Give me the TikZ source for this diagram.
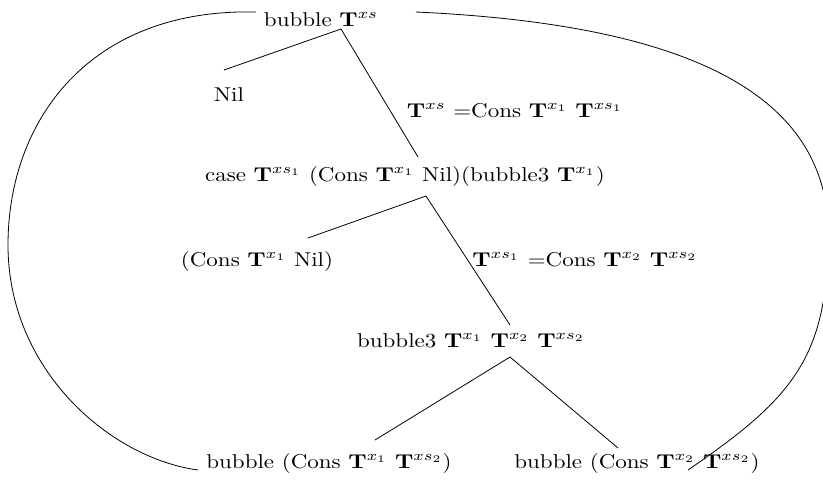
\documentclass[tikz,border=0pt]{standalone}
\usepackage{amsmath}
\usepackage{amssymb}

\begin{document}
\begin{tikzpicture}[x=0.5pt,y=-0.5pt]
    \tikzset{%
      term/.style={anchor=base, inner sep=0pt, xscale=1.15, transform shape},
      branch/.style={draw, line width=0.4pt},
      recur/.style={draw, line width=0.4pt},
    }
    \useasboundingbox (0,0) rectangle (823,484);
    \clip (0,0) rectangle (823,484);

    \node[term] (bub) at (321,26) {bubble $\mathbf{T}^{xs}$};
    \node[term] (nil) at (229,101) {Nil};
    \node[term] (lab1) at (515,117) {$\mathbf{T}^{xs}$ =Cons $\mathbf{T}^{x_1}$ $\mathbf{T}^{xs_1}$};
    \node[term] (case) at (405,181) {case $\mathbf{T}^{xs_1}$ (Cons $\mathbf{T}^{x_1}$ Nil)(bubble3 $\mathbf{T}^{x_1}$)};
    \node[term] (cnil) at (257,266) {(Cons $\mathbf{T}^{x_1}$ Nil)};
    \node[term] (lab2) at (585,266) {$\mathbf{T}^{xs_1}$ =Cons $\mathbf{T}^{x_2}$ $\mathbf{T}^{xs_2}$};
    \node[term] (bub3) at (471,347) {bubble3 $\mathbf{T}^{x_1}$ $\mathbf{T}^{x_2}$ $\mathbf{T}^{xs_2}$};
    \node[term] (bubL) at (329,468) {bubble (Cons $\mathbf{T}^{x_1}$ $\mathbf{T}^{xs_2}$)};
    \node[term] (bubR) at (637,468) {bubble (Cons $\mathbf{T}^{x_2}$ $\mathbf{T}^{xs_2}$)};

    % case split
    \draw[branch] ([shift={(20,3)}]bub.base) -- ([shift={(-5,-31)}]nil.base);
    \draw[branch] ([shift={(20,3)}]bub.base) -- ([shift={(13,-24)}]case.base);
    \draw[branch] ([shift={(21,15)}]case.base) -- ([shift={(51,-28)}]cnil.base);
    \draw[branch] ([shift={(21,15)}]case.base) -- ([shift={(39,-22)}]bub3.base);
    \draw[branch] ([shift={(39,10)}]bub3.base) -- ([shift={(46,-28)}]bubL.base);
    \draw[branch] ([shift={(39,10)}]bub3.base) -- ([shift={(-19,-20)}]bubR.base);

    % recursive calls back to the root
    \draw[recur] ([shift={(-65,-14)}]bub.base)
        .. controls (90,8) and (8,120) .. (8,245)
        .. controls (8,370) and (110,458) .. ([shift={(-131,2)}]bubL.base);
    \draw[recur] ([shift={(95,-14)}]bub.base)
        .. controls (700,25) and (835,100) .. (828,245)
        .. controls (826,360) and (790,400) .. ([shift={(51,2)}]bubR.base);
  \end{tikzpicture}
\end{document}
